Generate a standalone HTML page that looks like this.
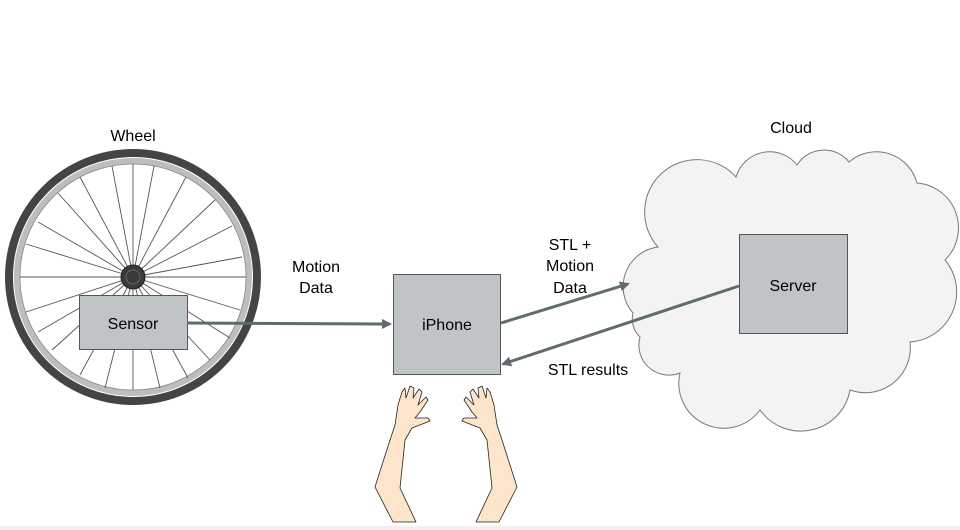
<!DOCTYPE html>
<html><head><style>
html,body{margin:0;padding:0;background:#fff;}
svg{display:block;}
text{font-family:"Liberation Sans",Arial,sans-serif;font-size:16px;fill:#000;}
</style></head><body>
<svg width="960" height="530" viewBox="0 0 960 530">
<defs>
<marker id="ah" markerWidth="10" markerHeight="10" refX="8" refY="5" orient="auto" markerUnits="userSpaceOnUse" viewBox="0 0 10 10">
<path d="M0,0 L10,5 L0,10 z" fill="#5f6b6d"/>
</marker>
</defs>
<rect x="0" y="0" width="960" height="530" fill="#fff"/>
<rect x="0" y="526" width="960" height="4" fill="#f6eeee"/>
<!-- wheel -->
<circle cx="133" cy="277" r="124" fill="#fff" stroke="#444" stroke-width="8"/>
<circle cx="133" cy="277" r="116" fill="none" stroke="#bdbdbd" stroke-width="6"/>
<circle cx="133" cy="277" r="113" fill="none" stroke="#888" stroke-width="0.8"/>
<g stroke="#555" stroke-width="0.9">
<line x1="133" y1="277" x2="133" y2="164"/><line x1="133" y1="277" x2="133" y2="390"/>
<line x1="133" y1="277" x2="20" y2="277"/><line x1="133" y1="277" x2="246" y2="277"/>
<line x1="133" y1="277" x2="112" y2="166"/><line x1="133" y1="277" x2="154" y2="166"/>
<line x1="133" y1="277" x2="80" y2="177"/><line x1="133" y1="277" x2="186" y2="177"/>
<line x1="133" y1="277" x2="58" y2="193"/><line x1="133" y1="277" x2="215" y2="200"/>
<line x1="133" y1="277" x2="38" y2="222"/><line x1="133" y1="277" x2="232" y2="226"/>
<line x1="133" y1="277" x2="26" y2="244"/><line x1="133" y1="277" x2="242" y2="257"/>
<line x1="133" y1="277" x2="26" y2="312"/><line x1="133" y1="277" x2="240" y2="310"/>
<line x1="133" y1="277" x2="38" y2="332"/><line x1="133" y1="277" x2="230" y2="338"/>
<line x1="133" y1="277" x2="52" y2="350"/><line x1="133" y1="277" x2="210" y2="360"/>
<line x1="133" y1="277" x2="80" y2="375"/><line x1="133" y1="277" x2="188" y2="378"/>
<line x1="133" y1="277" x2="105" y2="388"/><line x1="133" y1="277" x2="160" y2="388"/>
</g>
<circle cx="133" cy="277" r="12" fill="#3a3a3a" stroke="#222"/>
<circle cx="133" cy="277" r="7" fill="none" stroke="#666"/>
<rect x="79.5" y="295.5" width="108" height="54" fill="#bfc5c7" stroke="#555"/>
<text x="133" y="329" text-anchor="middle">Sensor</text>
<text x="133" y="141" text-anchor="middle">Wheel</text>
<!-- cloud -->
<path d="M658,247 A45,45 0 0 1 736,177 A35,35 0 0 1 797,165 A32,32 0 0 1 849,162 A42,42 0 0 1 917,183 A45,45 0 0 1 945,260 A50,50 0 0 1 910,342 A45,45 0 0 1 850,390 A50,50 0 0 1 760,410 A45,45 0 0 1 680,373 A30,30 0 0 1 640,337 A25,25 0 0 1 633,313 A40,40 0 0 1 658,247 Z" fill="#f3f3f3" stroke="#777" stroke-width="1"/>
<text x="791" y="133" text-anchor="middle">Cloud</text>
<rect x="739.5" y="234.5" width="108" height="99" fill="#bfc5c7" stroke="#555"/>
<text x="793" y="291" text-anchor="middle">Server</text>
<!-- iphone -->
<rect x="393.5" y="274.5" width="107" height="100" fill="#bfc5c7" stroke="#555"/>
<text x="447" y="330" text-anchor="middle">iPhone</text>
<!-- arrows -->
<g stroke="#5f6b6d" stroke-width="3" fill="none">
<line x1="187" y1="323" x2="390" y2="324" marker-end="url(#ah)"/>
<line x1="501" y1="323" x2="628" y2="284" marker-end="url(#ah)"/>
<line x1="739" y1="286" x2="503" y2="364" marker-end="url(#ah)"/>
</g>
<text x="316" y="272" text-anchor="middle">Motion</text>
<text x="316" y="293" text-anchor="middle">Data</text>
<text x="570" y="250" text-anchor="middle">STL +</text>
<text x="570" y="271" text-anchor="middle">Motion</text>
<text x="570" y="293" text-anchor="middle">Data</text>
<text x="588" y="375" text-anchor="middle">STL results</text>
<!-- hands -->
<g fill="#fde5cc" stroke="#222" stroke-width="0.8" stroke-linejoin="round">
<path id="lh" d="M393,522 L375,487 L390,440 L395,425 L398,405 L402,392 L405,388 L406,398 L410,386 L414,388 L413,398 L419,389 L422,392 L418,405 L426,397 L428,400 L420,412 L415,418 L428,418 L430,421 L412,428 L405,440 L400,488 L416,522 Z"/>
<path d="M499,522 L517,487 L502,440 L497,425 L494,405 L490,392 L487,388 L486,398 L482,386 L478,388 L479,398 L473,389 L470,392 L474,405 L466,397 L464,400 L472,412 L477,418 L464,418 L462,421 L480,428 L487,440 L492,488 L476,522 Z"/>
</g>
</svg>
</body></html>
